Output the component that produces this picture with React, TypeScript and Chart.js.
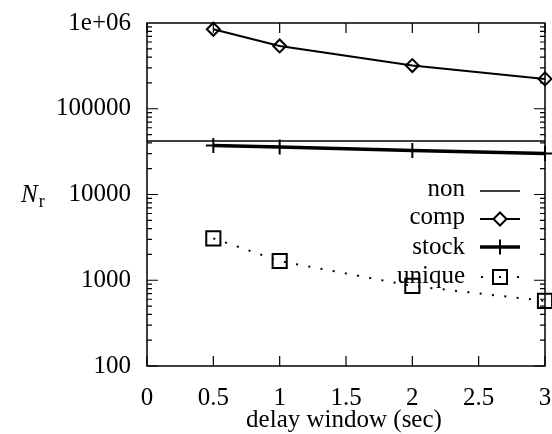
import React, { useEffect, useRef } from "react";
import { Chart, registerables } from "chart.js";

Chart.register(...registerables);

const xValues = [0.5, 1, 2, 3];
const nonX = [0, 0.5, 1, 2, 3];
const nonValues = [42000, 42000, 42000, 42000, 42000];
const compValues = [845000, 540000, 319000, 223000];
const stockValues = [37400, 35900, 32700, 30000];
const uniqueValues = [3075, 1675, 859, 574];

const xTickValues = [0, 0.5, 1, 1.5, 2, 2.5, 3];
const yTickValues = [100, 1000, 10000, 100000, 1000000];
const yTickLabels = ["100", "1000", "10000", "100000", "1e+06"];
const legendLabels = ["non", "comp", "stock", "unique"];
const xTitle = "delay window (sec)";
const yTitleMain = "N";
const yTitleSub = "r";

const FONT = "'Liberation Serif', 'Times New Roman', serif";
const PLOT_RIGHT = 545;

const areaPlugin = {
  id: "area",
  afterLayout(chart: any) {
    const x = chart.scales.x;
    const ca = chart.chartArea;
    ca.right = PLOT_RIGHT;
    ca.width = ca.right - ca.left;
    x.right = PLOT_RIGHT;
    x.width = x.right - x.left;
    x.configure();
  },
};

const framePlugin = {
  id: "frame",
  afterDraw(chart: any) {
    const { ctx, chartArea, scales } = chart;
    const { left, right, top, bottom } = chartArea;
    const x = scales.x;
    const y = scales.y;
    ctx.save();
    ctx.strokeStyle = "#000";
    ctx.fillStyle = "#000";
    ctx.lineWidth = 1.5;
    ctx.strokeRect(left, top, right - left, bottom - top);
    ctx.lineWidth = 1.2;
    ctx.beginPath();
    xTickValues.forEach((v) => {
      const px = x.getPixelForValue(v);
      ctx.moveTo(px, bottom);
      ctx.lineTo(px, bottom - 10);
      ctx.moveTo(px, top);
      ctx.lineTo(px, top + 10);
    });
    for (let e = 2; e <= 5; e++) {
      for (let m = 1; m <= 9; m++) {
        const v = m * Math.pow(10, e);
        if (v > 1000000) continue;
        const py = y.getPixelForValue(v);
        const len = m === 1 ? 11 : 5;
        ctx.moveTo(left, py);
        ctx.lineTo(left + len, py);
        ctx.moveTo(right, py);
        ctx.lineTo(right - len, py);
      }
    }
    ctx.stroke();

    // y title
    ctx.textBaseline = "alphabetic";
    ctx.textAlign = "left";
    ctx.font = `italic 25px ${FONT}`;
    ctx.fillText(yTitleMain, 21, 202);
    const nw = ctx.measureText(yTitleMain).width;
    ctx.font = `18px ${FONT}`;
    ctx.fillText(yTitleSub, 21 + nw + 1, 207);

    // x title
    ctx.font = `25px ${FONT}`;
    ctx.textAlign = "center";
    ctx.fillText(xTitle, 344, 427);

    // legend
    const baselines = [196, 224, 254, 283];
    const textRight = 465;
    const sx0 = 480;
    const sx1 = 520;
    const sxm = 500;
    ctx.textAlign = "right";
    ctx.font = `25px ${FONT}`;
    legendLabels.forEach((lab, i) => {
      ctx.fillText(lab, textRight, baselines[i]);
    });
    // non
    let ly = baselines[0] - 5;
    ctx.lineWidth = 1.5;
    ctx.beginPath();
    ctx.moveTo(sx0, ly);
    ctx.lineTo(sx1, ly);
    ctx.stroke();
    // comp
    ly = baselines[1] - 5;
    ctx.lineWidth = 2;
    ctx.beginPath();
    ctx.moveTo(sx0, ly);
    ctx.lineTo(sxm - 6.5, ly);
    ctx.moveTo(sxm + 6.5, ly);
    ctx.lineTo(sx1, ly);
    ctx.moveTo(sxm, ly - 6.5);
    ctx.lineTo(sxm + 6.5, ly);
    ctx.lineTo(sxm, ly + 6.5);
    ctx.lineTo(sxm - 6.5, ly);
    ctx.closePath();
    ctx.stroke();
    // stock
    ly = baselines[2] - 7;
    ctx.lineWidth = 3.5;
    ctx.beginPath();
    ctx.moveTo(sx0, ly);
    ctx.lineTo(sx1, ly);
    ctx.stroke();
    ctx.lineWidth = 2;
    ctx.beginPath();
    ctx.moveTo(sxm, ly - 7.5);
    ctx.lineTo(sxm, ly + 7.5);
    ctx.stroke();
    // unique
    ly = baselines[3] - 6;
    ctx.fillRect(sx0 + 1, ly - 1, 2, 2);
    ctx.fillRect(sx1 - 3, ly - 1, 2, 2);
    ctx.fillRect(sxm - 1, ly - 1, 2, 2);
    ctx.lineWidth = 2;
    ctx.strokeRect(sxm - 7, ly - 7, 14, 14);
    ctx.restore();
  },
};

export default function App() {
  const ref = useRef<HTMLCanvasElement | null>(null);
  useEffect(() => {
    if (!ref.current) return;
    const toPts = (xs: number[], ys: number[]) => xs.map((xv, i) => ({ x: xv, y: ys[i] }));
    const chart = new Chart(ref.current, {
      type: "line",
      data: {
        datasets: [
          {
            label: legendLabels[0],
            data: toPts(nonX, nonValues),
            borderColor: "#000",
            borderWidth: 1.5,
            pointRadius: 0,
            clip: false as any,
          },
          {
            label: legendLabels[1],
            data: toPts(xValues, compValues),
            borderColor: "#000",
            borderWidth: 2,
            pointStyle: "rectRot",
            pointRadius: 6.5,
            pointBorderWidth: 2,
            pointBackgroundColor: "rgba(0,0,0,0)",
            pointBorderColor: "#000",
            clip: false as any,
          },
          {
            label: legendLabels[2],
            data: toPts(xValues, stockValues),
            borderColor: "#000",
            borderWidth: 3.5,
            pointStyle: "cross",
            pointRadius: 7.5,
            pointBorderWidth: 2,
            pointBorderColor: "#000",
            clip: false as any,
          },
          {
            label: legendLabels[3],
            data: toPts(xValues, uniqueValues),
            borderColor: "#000",
            borderWidth: 2,
            borderDash: [2, 10.4],
            pointStyle: "rect",
            pointRadius: 10,
            pointBorderWidth: 2,
            pointBackgroundColor: "rgba(0,0,0,0)",
            pointBorderColor: "#000",
            clip: false as any,
          },
        ],
      },
      options: {
        animation: false,
        responsive: false,
        events: [],
        layout: { padding: { top: 23, right: 7, left: 0, bottom: 0 } },
        plugins: { legend: { display: false }, tooltip: { enabled: false } },
        scales: {
          x: {
            type: "linear",
            min: 0,
            max: 3,
            grid: { display: false, drawTicks: false },
            border: { display: false },
            afterBuildTicks: (s: any) => {
              s.ticks = xTickValues.map((v) => ({ value: v }));
            },
            afterFit: (s: any) => {
              s.height = 434 - 366;
              s.paddingLeft = 0;
              s.paddingRight = 0;
            },
            ticks: {
              color: "#000",
              padding: 17,
              font: { family: FONT, size: 25 },
              maxRotation: 0,
              autoSkip: false,
              callback: (v: any) => String(v),
            },
          },
          y: {
            type: "logarithmic",
            min: 100,
            max: 1000000,
            grid: { display: false, drawTicks: false },
            border: { display: false },
            afterBuildTicks: (s: any) => {
              s.ticks = yTickValues.map((v) => ({ value: v }));
            },
            afterFit: (s: any) => {
              s.width = 147;
              s.paddingTop = 0;
              s.paddingBottom = 0;
            },
            ticks: {
              color: "#000",
              padding: 16,
              font: { family: FONT, size: 25 },
              autoSkip: false,
              callback: (v: any) => {
                const i = yTickValues.indexOf(Number(v));
                return i >= 0 ? yTickLabels[i] : "";
              },
            },
          },
        },
      },
      plugins: [areaPlugin, framePlugin],
    });
    return () => chart.destroy();
  }, []);
  return (
    <div style={{ position: "absolute", left: 0, top: 0, width: 552, height: 434, background: "#fff" }}>
      <canvas ref={ref} width={552} height={434} style={{ display: "block" }} />
    </div>
  );
}
